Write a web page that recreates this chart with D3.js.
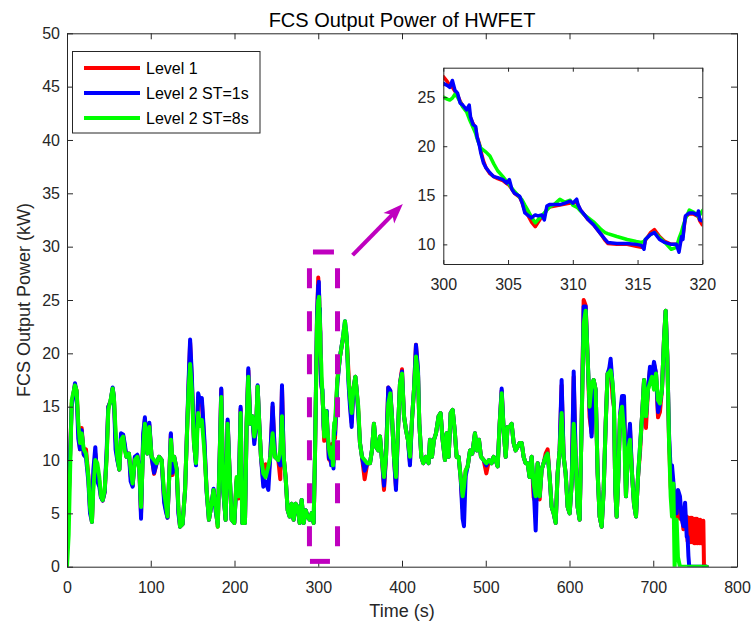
<!DOCTYPE html>
<html>
<head>
<meta charset="utf-8">
<script src="https://d3js.org/d3.v7.min.js"></script>
<style>
  body { margin: 0; background: #fff; }
  svg { font-family: "Liberation Sans", Arial, Helvetica, sans-serif; }
  .axis .domain, .axis line { stroke: #262626; stroke-width: 1; }
  .axis text { fill: #262626; font-size: 16px; font-family: "Liberation Sans", Arial, sans-serif; }
  .line { fill: none; stroke-linejoin: round; stroke-linecap: round; }
</style>
</head>
<body>
<svg width="754" height="628"></svg>
<script>

// time (s), shared by the three runs
var times = [
  0, 2, 5.6, 9.5, 11.5, 13.5, 15.5, 17.5, 20, 22.7,
  25.5, 27.5, 29.8, 31.4, 33.8, 36.2, 38.6, 40.5, 42.6, 45,
  47.4, 49.3, 52, 54.5, 56, 58, 60, 62.5, 64.5, 67,
  69, 71, 74, 76, 78.4, 81, 84, 86.4, 88.4, 91,
  93, 96, 98.3, 101, 104, 107, 110, 113, 116, 118,
  120, 122, 124, 126, 128, 131, 133, 135, 138, 141,
  143, 145, 147, 149, 151.6, 154, 156.6, 159, 161, 164,
  166.7, 169.5, 172.7, 175, 177.5, 180, 182.3, 184.2, 186.6, 189.4,
  191.8, 194.2, 196.6, 199.8, 202.5, 205, 207.3, 209.3, 212.5, 214.5,
  216.5, 218.9, 221.3, 223.6, 226, 227.6, 229.6, 231.6, 234.4, 237.2,
  240.4, 242.7, 245.5, 248.3, 252.3, 254.7, 256.7, 258.7, 261, 263.5,
  265.9, 268.2, 270.6, 273, 275.4, 277.8, 280.2, 282.6, 285, 287.3,
  289.7, 292.1, 294.5, 296.1, 298.5,
  // 300 - 320 (zoomed part)
  300, 300.3, 300.5, 300.7, 300.9, 301.1, 301.3, 301.5, 301.8, 302.0,
  302.1, 302.3, 302.5, 302.6, 302.8, 302.9, 303.1, 303.3, 303.6, 303.9,
  304.2, 304.6, 304.9, 305.1, 305.3, 305.5, 305.9, 306.1, 306.3, 306.6,
  306.8, 307.1, 307.3, 307.6, 307.8, 308.0, 308.2, 308.6, 309.0, 309.4,
  309.8, 310.0, 310.3, 310.4, 310.6, 310.9, 311.2, 311.6, 311.9, 312.2,
  312.5, 312.7, 313.4, 314.2, 314.9, 315.3, 315.5, 315.6, 316.0, 316.3,
  316.7, 317.1, 317.6, 318.0, 318.2, 318.4, 318.5, 318.6, 318.7, 319.0,
  319.3, 319.6, 319.7, 319.8, 320.0,
  // after 320
  322.8, 326, 329.1, 331.9, 333.9, 335.9, 337.9, 339.9, 341.9, 344.3,
  345.8, 347.8, 349.8, 352.2, 355.4, 358.6, 361.8, 364.1, 366.5, 368.9,
  371.7, 373.7, 376.5, 378.5, 380.9, 383.6, 386, 388, 390.4, 392.8,
  395.2, 397.6, 400, 402.4, 404.8, 407.1, 409.5, 411.9, 414.3, 416.7,
  419.1, 420.7, 423.1, 425.4, 428.6, 431.8, 433.4, 435.8, 438.2, 440.6,
  443.7, 446.1, 448.5, 451.3, 453.3, 455.7, 458.1, 460.5, 462.9, 465.2,
  467.6, 470, 472.4, 474, 476, 478.4, 481.2, 484, 487.1, 489.5,
  491.9, 494.3, 497.5, 500.7, 503.9, 507, 509.4, 511.8, 514.2, 516.6,
  519, 521.4, 523.8, 526.1, 528.5, 530.9, 533.3, 535.7, 538.1, 540.5,
  542.9, 545.2, 547.6, 550, 552.4, 554.8, 557.2, 559.6, 562, 564.4,
  566.7, 569.1, 571.5, 573.9, 576.3, 578.7, 581.1, 583.5, 585.8, 588.2,
  590.6, 593, 595.4, 597.8, 600.2, 602.6, 605, 607.3, 609.7, 612.1,
  614.5, 616.9, 619.3, 621.6, 624, 626.4, 628.8, 631.2, 633.6, 636,
  638.4, 640.8, 643.2, 645.5, 647.5, 649.1, 651.5, 653.1, 654.7, 656.3,
  658.3, 660.3, 662.7, 665.1, 667.4, 669.8, 672.2, 674.6, 677, 679.4,
  681.8, 684.2, 686.6, 689, 691.3, 693.7, 696.1, 698.5, 700.9, 703.3,
  705.7, 708, 710.4, 712.8, 714.8, 716.8, 718.8, 720.8, 722.4, 724,
  725.5, 727.9, 729.5, 731.9, 734, 736, 738, 740, 741, 742,
  743, 744, 745, 746, 747, 748, 749, 750, 751, 752,
  753, 754, 755, 756, 757, 758, 759, 759.8, 760.6, 764
];

// Level 1 (kW)
var level1 = [
  3.6, 6, 15.3, 17, 16.5, 13, 11, 13, 10.5, 11,
  8.5, 5.5, 4.2, 8, 10.6, 9, 8, 6.6, 6.2, 7,
  10.5, 15, 15.5, 16.7, 15.9, 12, 10.2, 9.1, 12, 12.3,
  11.2, 10.3, 10.6, 8.5, 7.6, 10.2, 10.4, 9.1, 5, 12,
  13.8, 10.6, 13.3, 10.3, 8.7, 9.7, 10.3, 10, 6.3, 5.4,
  4.6, 8.4, 12.4, 8.6, 10.3, 9.1, 5.3, 3.75, 4, 7.2,
  11.9, 16.5, 21, 17.5, 11.6, 9.7, 15.8, 15.2, 15.5, 11.5,
  7.2, 4.4, 5.9, 7.2, 5.6, 3.75, 10.3, 16.6, 7.2, 4.4,
  13.6, 8.75, 4.4, 4.1, 8.2, 6.4, 14.8, 4.1, 4.1, 13.4,
  18.4, 13.4, 14.1, 11.8, 13.4, 16.9, 13.4, 10.3, 8, 9.6,
  8.5, 10.3, 15, 10.3, 10, 8.2, 16.8, 10.3, 8.4, 5.3,
  4.7, 5.9, 4.4, 5.9, 5.6, 4.1, 6.25, 4.1, 5.3, 4.7,
  4.4, 5, 4.1, 10.3, 23,
  27.1, 26.6, 26.2, 26.0, 25.6, 25.2, 24.6, 24.1, 23.6, 23.5,
  22.9, 22.3, 21.8, 21.0, 20.2, 19.5, 18.5, 17.8, 17.2, 16.9,
  16.7, 16.5, 16.2, 16.0, 15.6, 15.2, 14.8, 14.2, 13.4, 12.8,
  12.3, 11.8, 12.2, 12.8, 13.0, 13.6, 13.8, 13.9, 14.0, 14.1,
  14.2, 14.2, 14.3, 14.0, 13.5, 13.0, 12.5, 12.0, 11.5, 11.0,
  10.4, 10.1, 10.0, 10.0, 9.8, 9.7, 9.8, 10.4, 11.2, 11.5,
  10.8, 10.3, 10.0, 10.0, 9.8, 10.6, 10.8, 11.8, 12.8, 13.1,
  13.1, 12.9, 12.8, 12.4, 12.0,
  17.5, 19.7, 21.2, 22, 21.5, 18.5, 15.5, 13.5, 16.6, 17.8,
  16.6, 14.6, 11.6, 10.3, 8.2, 9.7, 9.7, 10.9, 13.4, 11.25,
  10.9, 12.2, 9.7, 7.2, 10.3, 16.8, 16.5, 14.1, 10.3, 7.5,
  12.8, 17.2, 18.5, 14.1, 12.8, 11.9, 9.8, 13.75, 16.6, 20.8,
  18.1, 13.4, 10.3, 9.7, 10.3, 9.7, 11.9, 10.3, 11.9, 12.5,
  14.1, 14.4, 11.9, 10, 12.5, 10.3, 14.4, 14.7, 12.8, 10.3,
  10.3, 8.4, 5.5, 6.5, 9, 9.4, 10.9, 10.6, 12.5, 10.9,
  11.9, 10.3, 10, 8.75, 10, 9.7, 10.3, 10, 9.4, 13.4,
  16.5, 12.8, 10.3, 13.1, 13.1, 13.4, 11.6, 10.9, 11.25, 11.6,
  11.6, 10.3, 9.7, 9.7, 8.4, 10.3, 6.5, 6, 9.7, 6.3,
  9.1, 9.7, 10.6, 11, 8.4, 5.6, 5, 4.1, 8.75, 10.9,
  17, 10.3, 8.75, 5.6, 5, 7.8, 17.8, 10.3, 5.6, 4.4,
  13.4, 25, 24.5, 19.7, 14, 12.5, 17.5, 16.6, 8.75, 4.7,
  3.75, 7.2, 13.4, 18.1, 18.4, 19, 15.8, 15, 7.2, 4.7,
  8.4, 14.1, 15.5, 15.5, 6.6, 10.9, 13, 8.75, 5.9, 4.7,
  8.4, 10.7, 14.1, 17.5, 13, 16.6, 18.5, 17.8, 19, 18.1,
  14, 14.5, 16.6, 21.25, 24, 19.7, 11.9, 7.5, 6, 6.5,
  5, 4.7, 5.5, 4.5, 5, 3.5, 4.7, 4.7, 2.4, 4.6,
  2.3, 4.6, 2.3, 4.6, 2.3, 4.5, 2.2, 4.5, 2.2, 4.5,
  2.2, 4.4, 2.2, 4.4, 2.2, 4.3, 2.2, 4.3, 0, 0
];

// Level 2, ST = 1 s (kW)
var level2st1 = [
  3.8, 6.5, 15, 17.2, 16.3, 12, 11, 12.8, 10.5, 10.2,
  8, 5, 4.2, 9, 11.2, 8, 7.5, 6.5, 6.2, 7,
  11, 15, 15.5, 16.8, 15.9, 11, 10, 9.1, 12.5, 12.4,
  11.5, 10.3, 10.6, 8, 7.5, 10.3, 10.5, 9.1, 4.5, 12.5,
  14, 10.6, 13.5, 10.3, 8.8, 9.7, 10.3, 10, 6, 5.2,
  4.6, 8.4, 12.5, 8.8, 10.3, 9.1, 5, 3.75, 4, 7.2,
  12, 17, 21.3, 18, 11.8, 9.5, 16.25, 15.5, 15.8, 12,
  7, 4.4, 5.9, 7.3, 5.2, 4, 10.5, 16.7, 7, 4.4,
  13.8, 8.75, 4.4, 4.1, 8, 7, 15, 4.1, 4.1, 13.4,
  18.6, 13.4, 14.1, 11.5, 13.4, 17, 13.4, 10.3, 7.5, 8,
  7.2, 10.3, 15.3, 10.3, 10, 9.5, 17, 10.3, 8.4, 5.3,
  4.7, 5.9, 4.4, 5.9, 5.6, 4.1, 6.25, 4.1, 5.3, 4.7,
  4.4, 5, 4.1, 10.5, 23.5,
  26.4, 26.2, 26.0, 26.7, 25.7, 25.4, 24.4, 24.2, 23.7, 24.2,
  23.0, 22.2, 22.0, 21.0, 20.0, 19.3, 18.3, 17.8, 17.3, 16.9,
  16.8, 16.6, 16.25, 16.6, 15.6, 15.2, 14.9, 14.2, 13.2, 12.9,
  12.7, 13.0, 12.9, 13.0, 12.5, 13.9, 14.05, 14.05, 14.05, 14.2,
  14.4, 14.2, 14.6, 14.05, 13.5, 13.0, 12.5, 12.0, 11.5, 11.0,
  10.5, 10.2, 10.1, 10.1, 10.0, 9.9, 9.5, 10.5, 11.0, 11.2,
  10.5, 10.2, 10.0, 10.0, 9.2, 10.8, 10.5, 11.9, 12.9, 13.2,
  13.2, 13.0, 13.4, 12.5, 12.4,
  17.2, 19.7, 21.3, 23, 21.6, 17.5, 15, 13.1, 16.6, 17.8,
  16.6, 14.3, 11.6, 10.3, 9, 9.7, 9.7, 10.9, 13.4, 11.25,
  10.9, 12.2, 9.7, 7.6, 10.3, 16.8, 16.5, 14.1, 10.3, 7.2,
  12.8, 17.2, 18.3, 14.1, 12.8, 11.9, 9.5, 13.75, 16.6, 20.8,
  18.5, 13.4, 10.3, 9.7, 10.3, 9.7, 11.9, 10.3, 11.9, 12.5,
  14.1, 14.4, 11.9, 10, 12.5, 10.3, 14.4, 14.7, 12.8, 10.3,
  10.3, 8.4, 4.5, 3.8, 8.5, 9.4, 10.9, 10.6, 12.5, 10.9,
  11.9, 10.3, 10, 9.5, 10, 9.7, 10.3, 10, 9.4, 13.4,
  16.7, 12.8, 10.3, 13.1, 13.1, 13.4, 11.6, 10.9, 11.25, 11.6,
  11.6, 10.3, 9.7, 9.7, 8.4, 10.3, 7.5, 3.4, 9.7, 6.6,
  9.1, 9.7, 10.3, 10.6, 8.4, 5.6, 5, 4.1, 8.75, 10.9,
  17.5, 10.3, 8.75, 5.6, 5, 7.8, 18.3, 10.3, 5.6, 4.4,
  13.4, 24.4, 24.4, 19.7, 15, 12.2, 17.5, 16.6, 8.75, 4.7,
  3.75, 7.2, 13.4, 18.1, 18.6, 19.5, 17, 15, 7.2, 4.7,
  8.4, 14.1, 16, 16, 6.6, 10.9, 13.4, 8.75, 5.9, 4.7,
  8.4, 11.25, 14.1, 17.5, 14.1, 16.6, 18.75, 17.8, 19.2, 18.1,
  14.5, 15.3, 16.6, 21.25, 24, 19.7, 12.5, 9, 9.5, 8,
  6, 5, 7.2, 6.6, 4.5, 3.8, 6, 2.8, 2.8, 1,
  0, 0, 0, 0, 0, 0, 0, 0, 0, 0,
  0, 0, 0, 0, 0, 0, 0, 0, 0, 0
];

// Level 2, ST = 8 s (kW)
var level2st8 = [
  0, 3, 15.6, 17, 16.5, 13.4, 11.6, 12.5, 11, 10.6,
  8.4, 5.6, 4.2, 7.2, 10, 9.7, 8.4, 6.6, 6.25, 7.2,
  10.3, 14.7, 15.6, 16.7, 15.9, 12.8, 10.3, 9.1, 11.9, 12.2,
  10.9, 10.3, 10.6, 9.1, 7.8, 10, 10.3, 9.1, 5.6, 11.25,
  13.4, 10.6, 13.1, 10.3, 10, 9.7, 10.3, 10, 6.9, 5.9,
  4.7, 8.4, 11.9, 10, 10.3, 9.1, 5.6, 3.75, 4, 7.2,
  11.9, 16.25, 19, 16.6, 11.6, 9.7, 14.4, 13.2, 13.75, 10.9,
  7.2, 4.4, 5.9, 7.2, 5.6, 3.75, 10.3, 15.9, 7.2, 4.4,
  13.4, 8.75, 4.4, 4.1, 8.4, 6.6, 14.4, 4.1, 4.1, 13.4,
  17.8, 13.4, 14.1, 12.2, 13.4, 16.9, 13.4, 10.3, 8.75, 8.4,
  9.4, 10.3, 12.5, 10.3, 10, 10.9, 14.1, 10.3, 8.4, 5.3,
  4.7, 5.9, 4.4, 5.9, 5.6, 4.1, 6.25, 4.1, 5.3, 4.7,
  4.4, 5, 4.1, 10.3, 22.8,
  25.0, 24.8, 24.7, 24.9, 25.3, 25.0, 24.5, 24.0, 23.5, 22.8,
  22.5, 21.9, 21.3, 20.8, 20.1, 19.8, 19.6, 19.4, 19.0, 18.2,
  17.5, 16.9, 16.4, 16.1, 15.7, 15.4, 14.8, 14.5, 14.0, 13.3,
  12.8, 12.2, 12.5, 12.9, 13.2, 13.5, 13.8, 14.1, 14.6, 14.3,
  14.5, 14.0, 13.8, 13.7, 13.4, 13.0, 12.7, 12.3, 11.9, 11.5,
  11.2, 11.1, 10.8, 10.5, 10.3, 10.2, 10.3, 10.5, 11.0, 11.2,
  10.7, 10.2, 9.5, 9.7, 10.6, 11.3, 11.8, 12.2, 12.6, 13.5,
  13.3, 13.0, 12.8, 13.0, 13.4,
  17.5, 19.7, 21.25, 23, 21.6, 17.8, 15.9, 14.4, 16.6, 17.8,
  16.6, 15, 11.6, 10.3, 10, 9.7, 9.7, 10.9, 13.4, 11.25,
  10.9, 12.2, 9.7, 8.4, 10.3, 15.3, 16.25, 14.1, 10.3, 8.4,
  12.8, 17.2, 18.1, 14.1, 12.8, 11.9, 10.3, 13.75, 16.6, 19.7,
  18.1, 13.4, 10.3, 9.7, 10.3, 9.7, 11.9, 10.3, 11.9, 12.5,
  14.1, 14.4, 11.9, 10, 12.5, 10.3, 14.4, 14.7, 12.8, 10.3,
  10.3, 8.4, 6.6, 7.5, 9, 9.4, 10.9, 10.6, 12.5, 10.9,
  11.9, 10.3, 10, 9.7, 10, 9.7, 10.3, 10, 9.4, 13.4,
  16.25, 12.8, 10.3, 13.1, 13.1, 13.4, 11.6, 10.9, 11.25, 11.6,
  11.6, 10.3, 9.7, 9.7, 8.4, 10.3, 7.8, 6.6, 9.7, 6.6,
  9.1, 9.7, 10.3, 10.6, 8.4, 5.6, 5, 4.1, 8.75, 10.9,
  14.4, 10.3, 8.75, 5.6, 5, 7.8, 13.4, 10.3, 5.6, 4.4,
  13.4, 22.8, 24, 19.7, 15, 17.2, 17.5, 16.6, 8.75, 4.7,
  3.75, 7.2, 13.4, 18.1, 18.2, 18.4, 17.2, 15, 7.2, 4.7,
  8.4, 14.1, 15, 12.8, 6.6, 10.9, 11.9, 8.75, 5.9, 4.7,
  8.4, 11.25, 14.1, 17.5, 14.1, 16.6, 17.2, 17.8, 16.6, 18.1,
  15.6, 15.3, 16.6, 21.25, 24, 19.7, 11.9, 6.6, 4.7, 7.8,
  0, 4.4, 0.9, 0, 0, 0, 0, 0, 0, 0,
  0, 0, 0, 0, 0, 0, 0, 0, 0, 0,
  0, 0, 0, 0, 0, 0, 0, 0, 0, 0
];

var seriesNames = ["Level 1", "Level 2 ST=1s", "Level 2 ST=8s"];
var seriesColors = ["#ff0000", "#0000ff", "#00ff00"];
var xTicks = [0, 100, 200, 300, 400, 500, 600, 700, 800];
var yTicks = [0, 5, 10, 15, 20, 25, 30, 35, 40, 45, 50];
var insetXTicks = [300, 305, 310, 315, 320];
var insetYTicks = [10, 15, 20, 25];
// dashed box around 290-323 s and the arrow to the zoomed view
var zoomBox = {t0: 289.5, t1: 323, p0: 0.5, p1: 29.5};
var arrowFrom = [341, 29.2], arrowTo = [401, 34];

console.log(times.length, level1.length, level2st1.length, level2st8.length);

var series = [level1, level2st1, level2st8].map(function(vals, i) {
  return {
    name: seriesNames[i],
    color: seriesColors[i],
    values: times.map(function(t, j) { return {t: t, v: vals[j]}; })
  };
});

var svg = d3.select("svg");

var x = d3.scaleLinear().domain([0, 800]).range([67, 737]);
var y = d3.scaleLinear().domain([0, 50]).range([566.7, 33.3]);

var xi = d3.scaleLinear().domain([300, 320]).range([443.3, 702.3]);
var yi = d3.scaleLinear().domain([8, 28]).range([264, 67.7]);

var defs = svg.append("defs");
defs.append("clipPath").attr("id", "clip-main")
  .append("rect").attr("x", x(0)).attr("y", y(50))
  .attr("width", x(800) - x(0)).attr("height", y(0) - y(50));
defs.append("clipPath").attr("id", "clip-inset")
  .append("rect").attr("x", xi(300)).attr("y", yi(28))
  .attr("width", xi(320) - xi(300)).attr("height", yi(8) - yi(28));

function drawAxes(xs, ys, xt, yt, tick, pad) {
  var x0 = xs.range()[0], x1 = xs.range()[1];
  var y0 = ys.range()[0], y1 = ys.range()[1];
  svg.append("g").attr("class", "axis")
    .attr("transform", "translate(0," + y0 + ")")
    .call(d3.axisBottom(xs).tickValues(xt).tickSize(-tick).tickSizeOuter(0).tickPadding(15));
  svg.append("g").attr("class", "axis")
    .attr("transform", "translate(0," + y1 + ")")
    .call(d3.axisTop(xs).tickValues(xt).tickSize(-tick).tickSizeOuter(0).tickFormat(""));
  svg.append("g").attr("class", "axis")
    .attr("transform", "translate(" + x0 + ",0)")
    .call(d3.axisLeft(ys).tickValues(yt).tickSize(-tick).tickSizeOuter(0).tickPadding(pad));
  svg.append("g").attr("class", "axis")
    .attr("transform", "translate(" + x1 + ",0)")
    .call(d3.axisRight(ys).tickValues(yt).tickSize(-tick).tickSizeOuter(0).tickFormat(""));
}

// main lines: red, blue, then green on top
var line = d3.line().x(function(d) { return x(d.t); }).y(function(d) { return y(d.v); });
svg.append("g").attr("clip-path", "url(#clip-main)")
  .selectAll("path").data(series).enter().append("path")
  .attr("class", "line")
  .attr("stroke", function(d) { return d.color; })
  .attr("stroke-width", 4)
  .attr("d", function(d) { return line(d.values); });

drawAxes(x, y, xTicks, yTicks, 6, 7);

// dashed box
var bx0 = x(zoomBox.t0), bx1 = x(zoomBox.t1), by0 = y(zoomBox.p0), by1 = y(zoomBox.p1);
var boxColor = "#bf00bf";
var boxSides = [
  {x1: bx0, y1: by0, x2: bx0, y2: by1, dash: "20,23", off: 28},
  {x1: bx1, y1: by0, x2: bx1, y2: by1, dash: "20,23", off: 28},
  {x1: bx0, y1: by1, x2: bx1, y2: by1, dash: "21,200", off: -3.5},
  {x1: bx0, y1: by0, x2: bx1, y2: by0, dash: "20,200", off: -0.5}
];
svg.append("g").selectAll("line").data(boxSides).enter().append("line")
  .attr("x1", function(d) { return d.x1; }).attr("y1", function(d) { return d.y1; })
  .attr("x2", function(d) { return d.x2; }).attr("y2", function(d) { return d.y2; })
  .attr("stroke", boxColor).attr("stroke-width", 5)
  .attr("stroke-dasharray", function(d) { return d.dash; })
  .attr("stroke-dashoffset", function(d) { return d.off; });

// arrow
var ax0 = x(arrowFrom[0]), ay0 = y(arrowFrom[1]), ax1 = x(arrowTo[0]), ay1 = y(arrowTo[1]);
var len = Math.hypot(ax1 - ax0, ay1 - ay0), ux = (ax1 - ax0) / len, uy = (ay1 - ay0) / len;
var px = -uy, py = ux;
svg.append("line")
  .attr("x1", ax0).attr("y1", ay0)
  .attr("x2", ax1 - ux * 14).attr("y2", ay1 - uy * 14)
  .attr("stroke", boxColor).attr("stroke-width", 4);
svg.append("path")
  .attr("fill", boxColor)
  .attr("d", "M" + ax1 + "," + ay1 +
    "L" + (ax1 - ux * 20 + px * 7.5) + "," + (ay1 - uy * 20 + py * 7.5) +
    "L" + (ax1 - ux * 15) + "," + (ay1 - uy * 15) +
    "L" + (ax1 - ux * 20 - px * 7.5) + "," + (ay1 - uy * 20 - py * 7.5) + "Z");

// inset
svg.append("rect")
  .attr("x", xi(300)).attr("y", yi(28))
  .attr("width", xi(320) - xi(300)).attr("height", yi(8) - yi(28))
  .attr("fill", "#fff");

var lineInset = d3.line().x(function(d) { return xi(d.t); }).y(function(d) { return yi(d.v); });
var insetOrder = [series[0], series[2], series[1]];
svg.append("g").attr("clip-path", "url(#clip-inset)")
  .selectAll("path").data(insetOrder).enter().append("path")
  .attr("class", "line")
  .attr("stroke", function(d) { return d.color; })
  .attr("stroke-width", 3.5)
  .attr("d", function(d) {
    return lineInset(d.values.filter(function(p) { return p.t >= 298 && p.t <= 323; }));
  });

drawAxes(xi, yi, insetXTicks, insetYTicks, 4, 8);

// legend
var legend = svg.append("g");
legend.append("rect")
  .attr("x", 72.5).attr("y", 51.5).attr("width", 187.5).attr("height", 81.5)
  .attr("fill", "#fff").attr("stroke", "#262626").attr("stroke-width", 1);
var item = legend.selectAll("g.item").data(series).enter().append("g")
  .attr("class", "item")
  .attr("transform", function(d, i) { return "translate(0," + (68 + i * 25) + ")"; });
item.append("line")
  .attr("x1", 84).attr("x2", 140)
  .attr("stroke", function(d) { return d.color; }).attr("stroke-width", 4);
item.append("text")
  .attr("x", 146).attr("dy", "0.36em")
  .style("font-size", "16px").attr("fill", "#000")
  .text(function(d) { return d.name; });

// title and axis labels
svg.append("text")
  .attr("x", 402).attr("y", 27)
  .attr("text-anchor", "middle").style("font-size", "20px").attr("fill", "#000")
  .text("FCS Output Power of HWFET");

svg.append("text")
  .attr("x", 402).attr("y", 617)
  .attr("text-anchor", "middle").style("font-size", "18px").attr("fill", "#262626")
  .text("Time (s)");

svg.append("text")
  .attr("transform", "translate(30,300) rotate(-90)")
  .attr("text-anchor", "middle").style("font-size", "18px").attr("fill", "#262626")
  .text("FCS Output Power (kW)");

</script>
</body>
</html>
